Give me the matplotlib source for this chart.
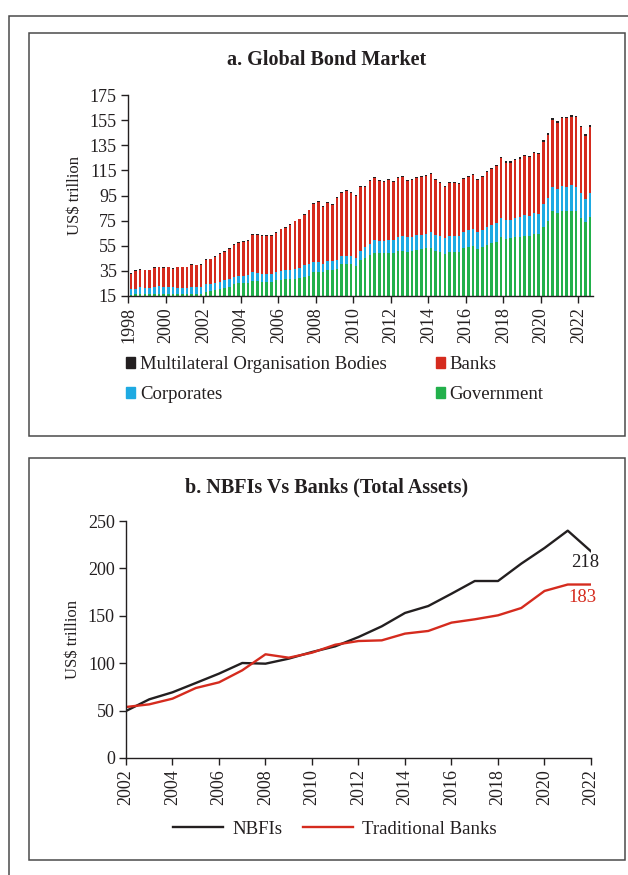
import matplotlib
matplotlib.use("Agg")
import matplotlib.pyplot as plt
from matplotlib.patches import Rectangle, Patch
from matplotlib.lines import Line2D
import numpy as np

plt.rcParams['font.family'] = ['Liberation Serif', 'DejaVu Serif']

# ---------------- Panel a data (quarterly, 1998Q1 - 2022Q3), US$ trillion ----------------
# readings of cumulative stack tops
government = [16.0, 16.2, 16.4, 16.3, 16.2, 16.5, 16.6, 16.5, 16.6, 16.4, 16.3, 16.4, 16.5, 16.7, 16.6, 16.8,
              18.4, 18.9, 19.7, 20.5, 21.3, 22.4, 24.2, 25.0, 25.0, 25.5, 27.1, 27.1, 26.3, 26.0, 26.3, 27.6,
              27.9, 28.2, 28.7, 28.9, 29.2, 30.5, 31.3, 34.2, 34.2, 33.9, 35.3, 35.3, 36.3, 40.3, 40.5, 40.5,
              38.9, 44.0, 45.3,
              47.6, 49.5, 48.9, 48.9, 49.5, 49.5, 50.8, 50.8, 50.3, 50.5, 51.6, 52.1, 52.9, 53.4, 51.1, 50.0,
              48.7, 50.0, 50.0, 50.0, 52.9, 53.9, 54.7, 52.4, 53.7, 55.3, 57.1, 57.9, 61.8, 60.3, 60.8, 61.6,
              62.1, 62.9, 62.9, 64.2, 64.2, 70.3, 74.5, 82.4, 80.8, 82.9, 82.6, 82.9, 82.4, 77.4, 74.0, 77.6]
gov_plus_corp = [20.3, 20.8, 21.8, 21.6, 21.3, 22.4, 22.6, 22.1, 22.1, 21.8, 21.6, 21.6, 21.6, 22.1, 21.8, 22.1,
                 24.2, 24.2, 25.3, 26.3, 27.4, 28.2, 30.0, 31.3, 31.3, 32.1, 33.9, 33.7, 32.9, 32.9, 32.6, 34.5,
                 34.7, 35.3, 36.0, 36.6, 37.6, 39.5, 40.3, 42.4, 42.1, 40.8, 42.6, 42.6, 43.9, 46.6, 46.8, 46.8,
                 45.0, 51.0, 54.3,
                 56.6, 59.2, 58.7, 58.7, 59.5, 59.5, 61.8, 62.4, 61.6, 61.8, 63.7, 63.9, 64.5, 65.8, 63.7, 62.6,
                 60.8, 62.4, 62.9, 62.9, 66.1, 67.4, 68.7, 65.8, 67.6, 70.0, 71.6, 72.9, 77.1, 75.3, 75.8, 76.8,
                 78.2, 79.2, 78.7, 80.8, 80.3, 88.4, 92.9, 101.8, 100.5, 102.9, 102.1, 103.2, 102.1, 96.6, 92.4, 96.6]
total = [33.4, 35.3, 36.3, 36.0, 36.0, 37.9, 38.4, 38.2, 38.4, 37.4, 38.4, 38.4, 38.4, 40.3, 40.0, 40.5,
         44.2, 44.7, 46.6, 49.0, 51.0, 52.9, 56.0, 57.9, 58.4, 59.5, 64.0, 64.0, 63.4, 63.7, 63.7, 66.0,
         68.7, 70.0, 72.4, 75.0, 76.6, 80.3, 83.7, 89.2, 90.3, 86.6, 89.7, 88.4, 93.7, 97.9, 99.5, 97.6,
         95.3, 102.6, 102.6,
         107.1, 109.5, 107.1, 106.6, 108.2, 106.8, 109.5, 110.3, 107.6, 107.9, 110.0, 110.3, 111.3, 112.9, 107.9, 106.1,
         102.9, 105.5, 106.1, 105.0, 109.2, 110.5, 112.1, 107.9, 110.3, 114.2, 117.1, 119.2, 125.5, 122.1, 122.1, 124.0,
         125.3, 127.6, 126.8, 129.5, 129.2, 138.9, 144.5, 156.3, 154.0, 157.6, 157.6, 158.7, 158.2, 150.3, 143.7, 150.8]
multilateral = [0.6] * 40 + [0.8] * 40 + [1.0] * 19

year_ticks_a = list(range(1998, 2023, 2))

# ---------------- Panel b data ----------------
years_b = list(range(2002, 2023))
nbfis = [49.6, 61.9, 69.3, 79.1, 89.0, 100.2, 99.5, 104.8, 111.8, 117.8, 127.6,
         138.9, 153.0, 160.3, 173.3, 186.7, 186.7, 205.0, 221.5, 239.8, 218.0]
trad_banks = [53.8, 56.6, 62.6, 73.8, 79.8, 92.5, 109.4, 105.8, 111.1, 119.5, 123.4,
              124.1, 131.2, 134.0, 142.8, 146.3, 150.5, 158.2, 176.2, 183.0, 183.0]

# ---------------- styling ----------------
C_MULTI = '#231f20'
C_BANK = '#d52b1e'
C_CORP = '#1eaae2'
C_GOV = '#22b04b'
TXT = '#231f20'
FS_TICK = 13
FS_LEG = 13.5
FS_TITLE = 14.5
FS_YLAB = 12

W, H = 628, 875
fig = plt.figure(figsize=(W / 100, H / 100), dpi=100)


def fbox(x0, y0, x1, y1):
    return [x0 / W, 1 - y1 / H, (x1 - x0) / W, (y1 - y0) / H]


def frame(x0, y0, x1, y1, lw=1.1, color='#4a4a4a'):
    l, b, w, h = fbox(x0, y0, x1, y1)
    fig.add_artist(Rectangle((l, b), w, h, transform=fig.transFigure, fill=False,
                             lw=lw, edgecolor=color, clip_on=False))


frame(9, 16, 660, 900)
frame(29, 33, 625, 436)
frame(29, 458, 625, 860)

# ---------------- panel a ----------------
axa = fig.add_axes(fbox(128, 95, 593, 296))
gov = np.array(government)
gpc = np.array(gov_plus_corp)
tot = np.array(total)
mul = np.array(multilateral)
corp = gpc - gov
banks = tot - gpc - mul
x = np.arange(len(gov))
bw = 0.55
axa.bar(x, gov, bw, color=C_GOV, linewidth=0)
axa.bar(x, corp, bw, bottom=gov, color=C_CORP, linewidth=0)
axa.bar(x, banks, bw, bottom=gpc, color=C_BANK, linewidth=0)
axa.bar(x, mul, bw, bottom=gpc + banks, color=C_MULTI, linewidth=0)
axa.set_ylim(15, 175)
axa.set_xlim(-0.6, len(gov) - 0.4)
axa.set_yticks(np.arange(15, 176, 20))
axa.set_xticks([4 * (y - 1998) - 0.5 for y in year_ticks_a])
axa.set_xticklabels([str(y) for y in year_ticks_a], rotation=90)
for s in ['top', 'right']:
    axa.spines[s].set_visible(False)
for s in ['left', 'bottom']:
    axa.spines[s].set_color(TXT)
    axa.spines[s].set_linewidth(1.0)
axa.tick_params(direction='out', length=5, width=1.0, color=TXT, labelsize=FS_TICK, labelcolor=TXT, pad=3)
axa.set_ylabel('US$ trillion', fontsize=FS_YLAB, color=TXT, labelpad=5)
fig.text(327 / W, 1 - 60 / H, 'a. Global Bond Market', ha='center', va='center',
         fontsize=FS_TITLE, fontweight='bold', color=TXT)

handles_a = [Patch(color=C_MULTI, label='Multilateral Organisation Bodies'),
             Patch(color=C_CORP, label='Corporates'),
             Patch(color=C_BANK, label='Banks'),
             Patch(color=C_GOV, label='Government')]
fig.legend(handles=handles_a, loc='upper left', bbox_to_anchor=(126 / W, 1 - 356 / H), ncol=2,
           frameon=False, fontsize=FS_LEG, handlelength=0.5, handleheight=0.5, handletextpad=0.25,
           columnspacing=2.6, labelspacing=0.7, borderpad=0, borderaxespad=0, labelcolor=TXT)

# ---------------- panel b ----------------
axb = fig.add_axes(fbox(126, 521, 591, 758))
axb.plot(years_b, nbfis, color=C_MULTI, lw=1.7, label='NBFIs')
axb.plot(years_b, trad_banks, color=C_BANK, lw=1.7, label='Traditional Banks')
axb.set_xlim(2002, 2022)
axb.set_ylim(0, 250)
axb.set_yticks(np.arange(0, 251, 50))
axb.set_xticks(list(range(2002, 2023, 2)))
axb.set_xticklabels([str(y) for y in range(2002, 2023, 2)], rotation=90)
for s in ['top', 'right']:
    axb.spines[s].set_visible(False)
for s in ['left', 'bottom']:
    axb.spines[s].set_color(TXT)
    axb.spines[s].set_linewidth(1.0)
axb.tick_params(direction='out', length=5, width=1.0, color=TXT, labelsize=FS_TICK, labelcolor=TXT, pad=3)
axb.set_ylabel('US$ trillion', fontsize=FS_YLAB, color=TXT, labelpad=5)
axb.text(years_b[-1] - 0.25, 206.5, f'{nbfis[-1]:.0f}', ha='center', va='center', fontsize=FS_LEG, color=TXT)
axb.text(years_b[-1] - 0.35, 169.5, f'{trad_banks[-1]:.0f}', ha='center', va='center', fontsize=FS_LEG, color=C_BANK)
fig.text(327 / W, 1 - 487 / H, 'b. NBFIs Vs Banks (Total Assets)', ha='center', va='center',
         fontsize=FS_TITLE, fontweight='bold', color=TXT)
fig.legend(handles=[Line2D([], [], color=C_MULTI, lw=1.7), Line2D([], [], color=C_BANK, lw=1.7)],
           labels=['NBFIs', 'Traditional Banks'], loc='center', bbox_to_anchor=(335 / W, 1 - 829 / H),
           ncol=2, frameon=False, fontsize=FS_LEG, handlelength=2.65, handletextpad=0.5, columnspacing=1.1,
           borderpad=0, labelcolor=TXT)

fig.savefig('out.png', dpi=100)
